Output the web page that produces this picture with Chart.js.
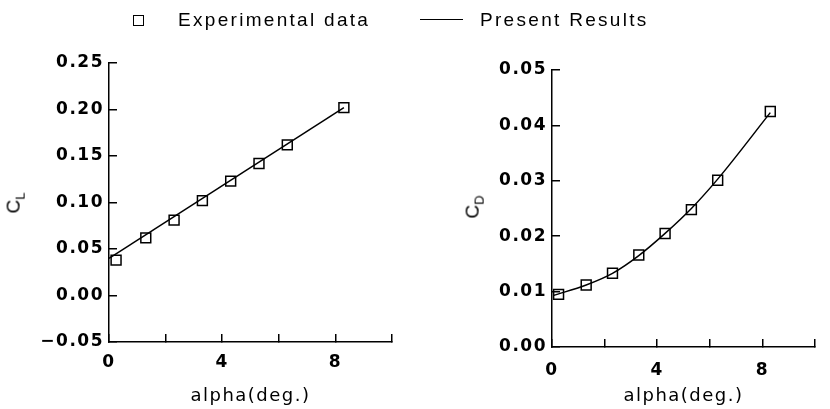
<!DOCTYPE html>
<html>
<head>
<meta charset="utf-8">
<script src="https://cdn.jsdelivr.net/npm/chart.js@4.4.1/dist/chart.umd.min.js"></script>
<style>
    html, body { margin: 0; padding: 0; background: #fff; overflow: hidden; }
    body { width: 830px; height: 409px; position: relative; font-family: "Liberation Sans", Arial, sans-serif; color: #000; }
    .box { position: absolute; top: 0; height: 409px; }
    .legend-text { position: absolute; top: 8px; font-size: 19px; letter-spacing: 2.3px; line-height: 24px; }
    .legend-square { position: absolute; left: 133px; top: 15px; width: 9px; height: 9px; border: 1.5px solid #000; }
    .legend-line { position: absolute; left: 420px; top: 19px; width: 43px; border-top: 1.5px solid #000; }
    .ytitle { position: absolute; font-size: 19px; transform: translate(-50%, -50%) rotate(-90deg); white-space: nowrap; }
    .ytitle sub { font-size: 13px; }
</style>
</head>
<body>
<div class="box" style="left:0;width:420px"><canvas id="chart-cl"></canvas></div>
<div class="box" style="left:410px;width:426px"><canvas id="chart-cd"></canvas></div>

<div class="legend-square"></div>
<div class="legend-text" style="left:178px">Experimental data</div>
<div class="legend-line"></div>
<div class="legend-text" style="left:480px">Present Results</div>

<div class="ytitle" style="left:15px;top:203px">C<sub>L</sub></div>
<div class="ytitle" style="left:474px;top:207px">C<sub>D</sub></div>

<script>
// Data
const alphaExp = [0.25, 1.3, 2.3, 3.3, 4.3, 5.3, 6.3, 8.3];
const clExp = [0.038, 0.062, 0.081, 0.102, 0.123, 0.142, 0.162, 0.202];
const cdExp = [0.0095, 0.0112, 0.0133, 0.0166, 0.0205, 0.0248, 0.0301, 0.0425];

const alphaLineCL = [0, 8.3];
const clLine = [0.040, 0.202];
const alphaLineCD = [0.05, 1.3, 2.3, 3.3, 4.3, 5.3, 6.3, 8.3];
const cdLine = [0.0093, 0.0112, 0.0133, 0.0165, 0.0205, 0.0250, 0.0303, 0.0423];

const xTicksShown = [0, 4, 8];

const FONT = { family: '"DejaVu Sans", sans-serif', size: 17, weight: 'bold' };

const toPoints = (xs, ys) => xs.map((x, i) => ({ x, y: ys[i] }));

// wider spacing for all canvas text, like the scanned figure
const spacingPlugin = {
    id: 'spacing',
    beforeDraw(chart) { chart.ctx.letterSpacing = '1.5px'; }
};

const formatY = (v) => {
    if (Math.abs(v) < 1e-9) return '0.00';
    return (v < 0 ? '\u2212' : '') + Math.abs(v).toFixed(2);
};

function makeChart(id, cfg) {
    const ctx = document.getElementById(id).getContext('2d');
    return new Chart(ctx, {
        type: 'scatter',
        data: {
            datasets: [
                {
                    data: toPoints(cfg.lineX, cfg.lineY),
                    showLine: true,
                    borderColor: '#000',
                    borderWidth: 1.5,
                    pointRadius: 0,
                    cubicInterpolationMode: 'monotone'
                },
                {
                    data: toPoints(alphaExp, cfg.expY),
                    pointStyle: 'rect',
                    pointRadius: 7,
                    pointBorderWidth: 1.5,
                    pointBorderColor: '#000',
                    pointBackgroundColor: 'rgba(0,0,0,0)'
                }
            ]
        },
        options: {
            responsive: true,
            maintainAspectRatio: false,
            animation: false,
            layout: { padding: { top: cfg.top, right: cfg.right, left: 0, bottom: 0 } },
            plugins: { legend: { display: false }, tooltip: { enabled: false } },
            scales: {
                x: {
                    type: 'linear',
                    min: 0,
                    max: 10,
                    afterFit: (scale) => { scale.height = cfg.xHeight; },
                    border: { color: '#000', width: 1.5 },
                    grid: { drawOnChartArea: false, tickLength: -8, color: '#000', lineWidth: 1.5 },
                    ticks: {
                        stepSize: 2,
                        color: '#000',
                        font: FONT,
                        padding: cfg.xPad,
                        maxRotation: 0,
                        callback: (v) => xTicksShown.includes(v) ? String(v) : ''
                    },
                    title: {
                        display: true,
                        text: 'alpha(deg.)',
                        color: '#000',
                        font: { family: '"DejaVu Sans", sans-serif', size: 18 },
                        padding: { top: 0, bottom: 2 }
                    }
                },
                y: {
                    type: 'linear',
                    min: cfg.yMin,
                    max: cfg.yMax,
                    afterFit: (scale) => { scale.width = cfg.yWidth; },
                    border: { color: '#000', width: 1.5 },
                    grid: { drawOnChartArea: false, tickLength: -8, color: '#000', lineWidth: 1.5 },
                    ticks: {
                        stepSize: cfg.yStep,
                        color: '#000',
                        font: FONT,
                        padding: cfg.yPad,
                        callback: formatY
                    }
                }
            }
        },
        plugins: [spacingPlugin]
    });
}

makeChart('chart-cl', {
    lineX: alphaLineCL, lineY: clLine, expY: clExp,
    yMin: -0.05, yMax: 0.25, yStep: 0.05,
    top: 63, right: 28, xHeight: 67, yWidth: 109,
    xPad: 18, yPad: 13
});

makeChart('chart-cd', {
    lineX: alphaLineCD, lineY: cdLine, expY: cdExp,
    yMin: 0, yMax: 0.05, yStep: 0.01,
    top: 70, right: 0, xHeight: 62, yWidth: 142,
    xPad: 21, yPad: 13
});
</script>
</body>
</html>
